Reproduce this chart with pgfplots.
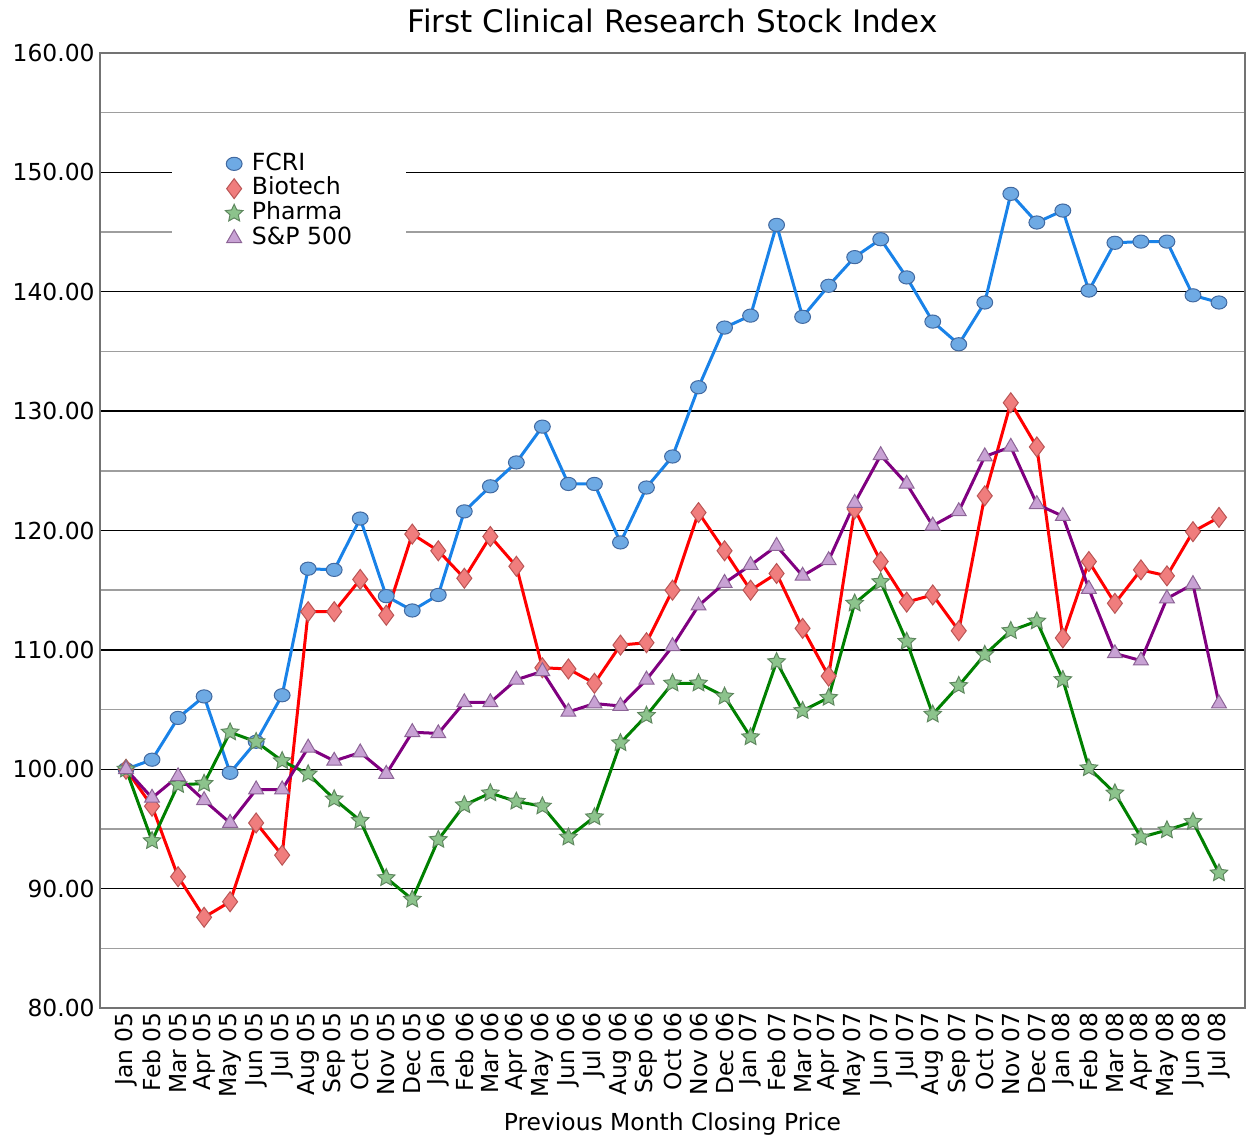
\documentclass[border=0pt]{standalone}
\usepackage{pgfplots}
\usepackage{pgfplotstable}
\pgfplotsset{compat=1.18}
\usepackage{fontspec}
\setmainfont{DejaVu Sans}
\definecolor{fcriline}{RGB}{25,130,232}
\definecolor{fcrifill}{RGB}{110,170,228}
\definecolor{fcriedge}{RGB}{65,105,160}
\definecolor{bioline}{RGB}{255,0,0}
\definecolor{biofill}{RGB}{240,125,125}
\definecolor{bioedge}{RGB}{185,85,85}
\definecolor{phline}{RGB}{0,128,0}
\definecolor{phfill}{RGB}{140,195,140}
\definecolor{phedge}{RGB}{95,135,95}
\definecolor{spline}{RGB}{128,0,128}
\definecolor{spfill}{RGB}{200,162,212}
\definecolor{spedge}{RGB}{140,100,150}
\pgfdeclareplotmark{fstar}{%
  \pgfpathmoveto{\pgfpointpolar{90}{\pgfplotmarksize}}%
  \pgfpathlineto{\pgfpointpolar{126}{0.48\pgfplotmarksize}}%
  \pgfpathlineto{\pgfpointpolar{162}{\pgfplotmarksize}}%
  \pgfpathlineto{\pgfpointpolar{198}{0.48\pgfplotmarksize}}%
  \pgfpathlineto{\pgfpointpolar{234}{\pgfplotmarksize}}%
  \pgfpathlineto{\pgfpointpolar{270}{0.48\pgfplotmarksize}}%
  \pgfpathlineto{\pgfpointpolar{306}{\pgfplotmarksize}}%
  \pgfpathlineto{\pgfpointpolar{342}{0.48\pgfplotmarksize}}%
  \pgfpathlineto{\pgfpointpolar{18}{\pgfplotmarksize}}%
  \pgfpathlineto{\pgfpointpolar{54}{0.48\pgfplotmarksize}}%
  \pgfpathclose
  \pgfusepathqfillstroke}
\pgfplotstableread{
i fcri bio ph sp
0 100.0 100.0 100.0 100.0
1 100.8 96.9 94.0 97.6
2 104.3 91.0 98.7 99.4
3 106.1 87.6 98.8 97.4
4 99.7 88.9 103.1 95.5
5 102.3 95.5 102.3 98.3
6 106.2 92.8 100.7 98.3
7 116.8 113.2 99.6 101.8
8 116.7 113.2 97.5 100.7
9 121.0 115.9 95.7 101.4
10 114.5 112.9 90.9 99.6
11 113.3 119.7 89.1 103.1
12 114.6 118.3 94.1 103.0
13 121.6 116.0 97.0 105.6
14 123.7 119.5 98.0 105.6
15 125.7 117.0 97.3 107.5
16 128.7 108.5 96.9 108.2
17 123.9 108.4 94.3 104.8
18 123.9 107.2 96.0 105.5
19 119.0 110.4 102.2 105.3
20 123.6 110.6 104.5 107.5
21 126.2 115.0 107.2 110.3
22 132.0 121.5 107.2 113.7
23 137.0 118.3 106.1 115.6
24 138.0 115.0 102.7 117.1
25 145.6 116.4 109.0 118.7
26 137.9 111.8 104.9 116.2
27 140.5 107.8 106.0 117.5
28 142.9 121.8 113.9 122.3
29 144.4 117.4 115.7 126.3
30 141.2 114.0 110.7 123.9
31 137.5 114.6 104.6 120.4
32 135.6 111.6 107.0 121.6
33 139.1 122.9 109.6 126.2
34 148.2 130.7 111.6 127.0
35 145.8 127.0 112.4 122.2
36 146.8 111.0 107.5 121.2
37 140.1 117.4 100.1 115.1
38 144.1 113.9 98.0 109.7
39 144.2 116.7 94.3 109.1
40 144.2 116.2 94.9 114.3
41 139.7 119.9 95.6 115.5
42 139.1 121.1 91.3 105.5
}\data
\begin{document}
\begin{tikzpicture}
\begin{axis}[
  scale only axis, width=572.5pt, height=477.5pt,
  xmin=-1, xmax=43, ymin=80, ymax=160,
  xtick={0,...,42},
  xticklabels={Jan 05,Feb 05,Mar 05,Apr 05,May 05,Jun 05,Jul 05,Aug 05,Sep 05,Oct 05,Nov 05,Dec 05,
    Jan 06,Feb 06,Mar 06,Apr 06,May 06,Jun 06,Jul 06,Aug 06,Sep 06,Oct 06,Nov 06,Dec 06,
    Jan 07,Feb 07,Mar 07,Apr 07,May 07,Jun 07,Jul 07,Aug 07,Sep 07,Oct 07,Nov 07,Dec 07,
    Jan 08,Feb 08,Mar 08,Apr 08,May 08,Jun 08,Jul 08},
  ytick={80,90,...,160}, minor ytick={85,95,...,155},
  ymajorgrids, yminorgrids,
  major grid style={black, line width=0.7pt},
  minor grid style={black!38, line width=0.7pt},
  tick style={draw=none}, major tick length=0pt, minor tick length=0pt,
  axis line style={draw=black!55, line width=1.1pt},
  /pgf/number format/assume math mode=true,
  ticklabel style={font=\fontsize{11.7}{14}\selectfont},
  yticklabel style={inner sep=0pt, anchor=east,
    /pgf/number format/fixed, /pgf/number format/fixed zerofill, /pgf/number format/precision=2},
  yticklabel shift=2.5pt,
  xticklabel style={rotate=90, anchor=east, inner sep=0pt},
  xticklabel shift=2pt,
  title={First Clinical Research Stock Index},
  every axis title shift=0pt,
  title style={font=\fontsize{15.5}{18}\selectfont, at={(0.5,1)}, anchor=base, yshift=10pt},
  xlabel={Previous Month Closing Price},
  xlabel style={font=\fontsize{11.7}{14}\selectfont, at={(axis description cs:0.5,0)}, anchor=base, yshift=-61.5pt},
  legend style={at={(rel axis cs:0.0629,0.9036)}, anchor=north west, draw=none, fill=white,
    inner xsep=26.5pt, inner ysep=3pt, font=\fontsize{11.8}{14}\selectfont,
    nodes={inner sep=0.5pt, text height=8.8pt, text depth=2.6pt}, row sep=0pt,
    /tikz/every odd column/.append style={column sep=4pt}},
  legend cell align=left,
  legend image code/.code={\draw[#1, only marks] plot coordinates {(0.2cm,0cm)};},
]
\addplot[color=fcriline, line width=1.5pt, mark=*, mark size=3.3pt,
  mark options={fill=fcrifill, draw=fcriedge, line width=0.5pt, xscale=1.2}]
  table[x=i, y=fcri] {\data};
\addlegendentry{FCRI}
\addplot[color=bioline, line width=1.5pt, mark=diamond*, mark size=5pt,
  mark options={fill=biofill, draw=bioedge, line width=0.5pt}]
  table[x=i, y=bio] {\data};
\addlegendentry{Biotech}
\addplot[color=phline, line width=1.5pt, mark=fstar, mark size=4.6pt,
  mark options={fill=phfill, draw=phedge, line width=0.5pt}]
  table[x=i, y=ph] {\data};
\addlegendentry{Pharma}
\addplot[color=spline, line width=1.5pt, mark=triangle*, mark size=4.3pt,
  mark options={fill=spfill, draw=spedge, line width=0.5pt}]
  table[x=i, y=sp] {\data};
\addlegendentry{S\&P 500}
\coordinate (sw) at (rel axis cs:0,0);
\coordinate (ne) at (rel axis cs:1,1);
\end{axis}
\pgfresetboundingbox
\path ([shift={(-50pt,-64.5pt)}]sw) rectangle ([shift={(1.5pt,26.5pt)}]ne);
\end{tikzpicture}
\end{document}
